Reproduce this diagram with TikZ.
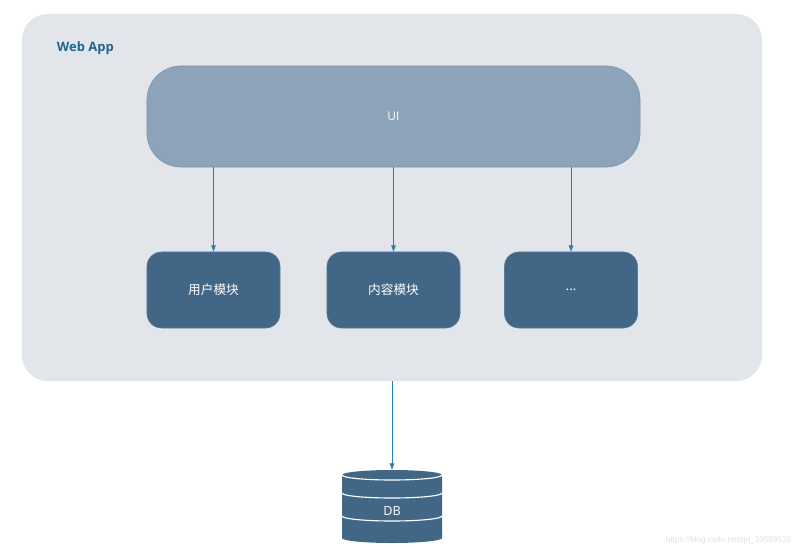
\documentclass[tikz,border=0pt]{standalone}
\usepackage{fontspec}
\setmainfont{Open Sans}
\newfontfamily\cjk{Noto Sans CJK SC}
\newfontfamily\wmfont{Liberation Sans}
\usetikzlibrary{arrows.meta}
\definecolor{panelgray}{HTML}{E2E5EA}
\definecolor{uifill}{HTML}{8DA3BA}
\definecolor{uiline}{HTML}{7A93AC}
\definecolor{modfill}{HTML}{426686}
\definecolor{modline}{HTML}{5B7B99}
\definecolor{linkblue}{HTML}{2E7DAA}
\definecolor{apptext}{HTML}{1E6690}

\begin{document}
\begin{tikzpicture}[x=0.025cm,y=0.025cm,
  panel/.style={fill=panelgray,rounded corners=0.65cm,minimum width=18.5cm,minimum height=9.175cm},
  uibox/.style={fill=uifill,draw=uiline,line width=0.4pt,rounded corners=0.85cm,
    minimum width=12.325cm,minimum height=2.525cm,text=white,font=\fontsize{8.5}{10}\selectfont},
  module/.style={fill=modfill,draw=modline,line width=0.4pt,rounded corners=0.36cm,
    minimum width=3.325cm,minimum height=1.9cm,text=white,font=\cjk\fontsize{9}{11}\selectfont},
  link/.style={linkblue,line width=0.5pt,-{Triangle[length=4.5pt,width=3.2pt]}}]
  \useasboundingbox (0,0) rectangle (800,549);
  % web app panel
  \node[panel] (app) at (392,351.5) {};
  \node[anchor=west,text=apptext,font=\bfseries\fontsize{9.2}{11}\selectfont] (apptitle) at (52,501) {Web App};
  \node[uibox] (ui) at (393.5,432.5) {UI};
  \node[module] (user) at (213.5,259) {用户模块};
  \node[module] (content) at (393.5,259) {内容模块};
  \node[module] (more) at (571,259) {\raisebox{-1pt}{...}};
  \draw[link] (ui.south -| user.north) -- (user.north);
  \draw[link] (ui.south -| content.north) -- (content.north);
  \draw[link] (ui.south -| more.north) -- (more.north);
  % database
  \node[minimum width=2.5cm,minimum height=1.825cm,inner sep=0pt] (db) at (392,42.5) {};
  \fill[modfill] (342,74) -- (342,11) arc[start angle=180,end angle=360,x radius=50,y radius=5]
    -- (442,74) arc[start angle=0,end angle=180,x radius=50,y radius=5] -- cycle;
  \draw[white,line width=0.8pt] (342,74) arc[start angle=180,end angle=360,x radius=50,y radius=5];
  \draw[white,line width=0.8pt] (342,56) arc[start angle=180,end angle=360,x radius=50,y radius=5];
  \draw[white,line width=0.8pt] (342,33) arc[start angle=180,end angle=360,x radius=50,y radius=5];
  \node[text=white,font=\fontsize{9}{11}\selectfont] (dbtext) at (392,38) {DB};
  \draw[link] (app.south -| db.north) -- (db.north);
  \node[anchor=east,text=black!12,font=\wmfont\fontsize{5.8}{7}\selectfont] (mark) at (796,9) {https://blog.csdn.net/qq\_33589510};
\end{tikzpicture}
\end{document}
